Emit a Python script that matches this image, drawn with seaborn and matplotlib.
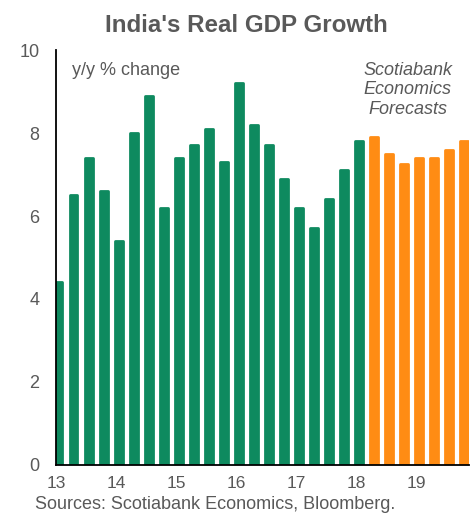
import numpy as np
import pandas as pd
import seaborn as sns
import matplotlib.pyplot as plt

# Quarterly real GDP growth, y/y %, 2013Q1 - 2019Q4
actual = [4.4, 6.5, 7.4, 6.6, 5.4, 8.0, 8.9, 6.2, 7.4, 7.7, 8.1, 7.3,
          9.2, 8.2, 7.7, 6.9, 6.2, 5.7, 6.4, 7.1, 7.8]
forecast = [7.9, 7.5, 7.25, 7.4, 7.4, 7.6, 7.8]
year_labels = ["13", "14", "15", "16", "17", "18", "19"]

GREEN = "#0e8a5f"
ORANGE = "#ff8c14"
GREY = "#595959"

values = actual + forecast
kind = ["Actual"] * len(actual) + ["Forecast"] * len(forecast)
quarter = [f"{2013 + i // 4}Q{i % 4 + 1}" for i in range(len(values))]
df = pd.DataFrame({"quarter": quarter, "value": values, "kind": kind})

sns.set_style("white")
plt.rcParams["font.family"] = ["Liberation Sans", "DejaVu Sans"]

fig = plt.figure(figsize=(4.76, 5.13), dpi=100)
ax = fig.add_axes([0.1176, 0.0936, 0.8674, 0.8089])

sns.barplot(data=df, x="quarter", y="value", hue="kind",
            palette={"Actual": GREEN, "Forecast": ORANGE}, saturation=1,
            width=0.52, dodge=False, legend=False, ax=ax)

# rounded bar ends
for p in ax.patches:
    p.set_edgecolor(p.get_facecolor())
    p.set_linewidth(2.0)
    p.set_joinstyle("round")
    p.set_zorder(1)

ax.set_xlim(-0.17, 27.3)
ax.set_ylim(0, 10)
ax.set_yticks([0, 2, 4, 6, 8, 10])
ax.set_xticks([4 * k - 0.17 for k in range(len(year_labels))])
ax.set_xticklabels(year_labels)
ax.set_xlabel("")
ax.set_ylabel("")

for side in ["top", "right"]:
    ax.spines[side].set_visible(False)
for side in ["left", "bottom"]:
    ax.spines[side].set_color("black")
    ax.spines[side].set_linewidth(1.3)
    ax.spines[side].set_zorder(3)

ax.tick_params(axis="y", direction="in", length=6, width=1.3, color="black",
               labelsize=13, labelcolor=GREY, pad=12)
ax.tick_params(axis="x", direction="out", length=4, width=1.3, color="black",
               labelsize=12.5, labelcolor=GREY, pad=4)

fig.text(0.517, 0.951, "India's Real GDP Growth", ha="center", va="center",
         fontsize=17.4, fontweight="bold", color=GREY)
ax.text(0.04, 0.972, "y/y % change", transform=ax.transAxes,
        ha="left", va="top", fontsize=13, color=GREY)
ax.text(0.852, 0.972, "Scotiabank\nEconomics\nForecasts", transform=ax.transAxes,
        ha="center", va="top", fontsize=13, color=GREY, style="italic",
        linespacing=1.22)
fig.text(0.074, 0.008, "Sources: Scotiabank Economics, Bloomberg.",
         ha="left", va="baseline", fontsize=13, color=GREY)

fig.savefig("out.png", dpi=100)
